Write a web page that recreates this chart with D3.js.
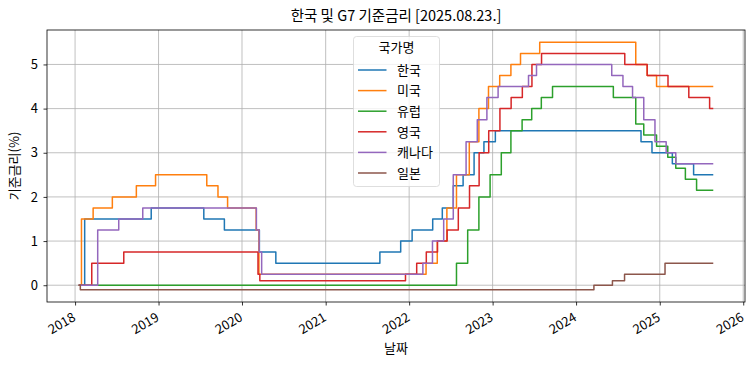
<!DOCTYPE html>
<html><head><meta charset="utf-8">
<script src="https://cdn.jsdelivr.net/npm/d3@7"></script>
<style>
html,body{margin:0;padding:0;background:#fff;}
text{font-family:"Noto Sans CJK KR","Noto Sans",sans-serif;}
</style></head>
<body><svg id="c" width="754" height="365"></svg>
<script>
const title = "한국 및 G7 기준금리 [2025.08.23.]";
const xLabel = "날짜";
const yLabel = "기준금리(%)";
const legendTitle = "국가명";
const countries = ["한국","미국","유럽","영국","캐나다","일본"];
const colors = ["#1f77b4","#ff7f0e","#2ca02c","#d62728","#9467bd","#8c564b"];
const yTicks = [0,1,2,3,4,5];
const xTickYears = [2018,2019,2020,2021,2022,2023,2024,2025,2026];

const korea = [["2018-01-17",0],["2018-02-12",1.5],["2018-11-30",1.75],["2019-07-18",1.5],["2019-10-16",1.25],["2020-03-17",0.75],["2020-05-28",0.5],["2021-08-26",0.75],["2021-11-25",1.0],["2022-01-14",1.25],["2022-04-14",1.5],["2022-05-26",1.75],["2022-07-13",2.25],["2022-08-25",2.5],["2022-10-12",3.0],["2022-11-24",3.25],["2023-01-13",3.5],["2024-10-11",3.25],["2024-11-28",3.0],["2025-02-25",2.75],["2025-05-29",2.5],["2025-08-23",2.5]];
const usa = [["2018-01-17",0],["2018-01-29",1.5],["2018-03-21",1.75],["2018-06-13",2.0],["2018-09-26",2.25],["2018-12-19",2.5],["2019-07-31",2.25],["2019-09-18",2.0],["2019-10-30",1.75],["2020-03-03",1.25],["2020-03-15",0.25],["2022-03-16",0.5],["2022-05-04",1.0],["2022-06-15",1.75],["2022-07-27",2.5],["2022-09-21",3.25],["2022-11-02",4.0],["2022-12-14",4.5],["2023-02-01",4.75],["2023-03-22",5.0],["2023-05-03",5.25],["2023-07-26",5.5],["2024-09-18",5.0],["2024-11-07",4.75],["2024-12-18",4.5],["2025-08-23",4.5]];
const europe = [["2018-01-17",0],["2022-07-27",0.5],["2022-09-14",1.25],["2022-11-02",2.0],["2022-12-21",2.5],["2023-02-08",3.0],["2023-03-22",3.5],["2023-05-10",3.75],["2023-06-21",4.0],["2023-08-02",4.25],["2023-09-20",4.5],["2024-06-12",4.25],["2024-09-18",3.65],["2024-10-23",3.4],["2024-12-18",3.15],["2025-02-05",2.9],["2025-03-12",2.65],["2025-04-23",2.4],["2025-06-11",2.15],["2025-08-23",2.15]];
const uk = [["2018-01-17",0],["2018-03-15",0.5],["2018-08-02",0.75],["2020-03-11",0.25],["2020-03-19",0.1],["2021-12-16",0.25],["2022-02-03",0.5],["2022-03-17",0.75],["2022-05-05",1.0],["2022-06-16",1.25],["2022-08-04",1.75],["2022-09-22",2.25],["2022-11-03",3.0],["2022-12-15",3.5],["2023-02-02",4.0],["2023-03-23",4.25],["2023-05-11",4.5],["2023-06-22",5.0],["2023-08-03",5.25],["2024-08-01",5.0],["2024-11-07",4.75],["2025-02-06",4.5],["2025-05-08",4.25],["2025-08-07",4.0],["2025-08-23",4.0]];
const canada = [["2018-01-17",0],["2018-04-10",1.25],["2018-07-11",1.5],["2018-10-24",1.75],["2020-03-04",1.25],["2020-03-16",0.75],["2020-03-27",0.25],["2022-03-02",0.5],["2022-04-13",1.0],["2022-06-01",1.5],["2022-07-13",2.5],["2022-09-07",3.25],["2022-10-26",3.75],["2022-12-07",4.25],["2023-01-25",4.5],["2023-06-07",4.75],["2023-07-12",5.0],["2024-06-05",4.75],["2024-07-24",4.5],["2024-09-04",4.25],["2024-10-23",3.75],["2024-12-11",3.25],["2025-01-29",3.0],["2025-03-12",2.75],["2025-08-23",2.75]];
const japan = [["2018-01-17",0],["2018-01-24",-0.1],["2024-03-19",0.0],["2024-06-08",0.1],["2024-07-31",0.25],["2025-01-24",0.5],["2025-08-23",0.5]];

const seriesData = [korea, usa, europe, uk, canada, japan];

const parse = d3.utcParse("%Y-%m-%d");
const series = seriesData.map((arr,i)=>({name:countries[i], color:colors[i], pts:arr.map(d=>({date:parse(d[0]), v:d[1]}))}));

const svg = d3.select("#c");
const m = {l:47, r:745, t:30, b:302};

const allDates = series.flatMap(s=>s.pts.map(p=>+p.date));
const allVals = series.flatMap(s=>s.pts.map(p=>p.v));
const dmin = d3.min(allDates), dmax = d3.max(allDates);
const dpad = (dmax-dmin)*0.05;
const vmin = d3.min(allVals), vmax = d3.max(allVals);
const vpad = (vmax-vmin)*0.05;

const x = d3.scaleUtc().domain([new Date(dmin-dpad), new Date(dmax+dpad)]).range([m.l, m.r]);
const y = d3.scaleLinear().domain([vmin-vpad, vmax+vpad]).range([m.b, m.t]);

const xTicks = xTickYears.map(yr=>new Date(Date.UTC(yr,0,1)));

// grid
const g = svg.append("g");
g.selectAll(".gx").data(xTicks).join("line")
  .attr("x1",d=>x(d)).attr("x2",d=>x(d)).attr("y1",m.t).attr("y2",m.b)
  .attr("stroke","#b0b0b0").attr("stroke-width",0.8);
g.selectAll(".gy").data(yTicks).join("line")
  .attr("x1",m.l).attr("x2",m.r).attr("y1",d=>y(d)).attr("y2",d=>y(d))
  .attr("stroke","#b0b0b0").attr("stroke-width",0.8);

// lines
svg.append("clipPath").attr("id","clp").append("rect")
  .attr("x",m.l).attr("y",m.t).attr("width",m.r-m.l).attr("height",m.b-m.t);
const line = d3.line().x(p=>x(p.date)).y(p=>y(p.v)).curve(d3.curveStepAfter);
svg.append("g").attr("clip-path","url(#clp)").selectAll("path").data(series).join("path")
  .attr("d",s=>line(s.pts)).attr("fill","none").attr("stroke",s=>s.color)
  .attr("stroke-width",1.5).attr("stroke-linejoin","round");

// axes
const xAxis = svg.append("g").attr("transform",`translate(0,${m.b})`)
  .call(d3.axisBottom(x).tickValues(xTicks).tickFormat(d3.utcFormat("%Y")).tickSizeOuter(0).tickSize(3.5));
xAxis.select(".domain").remove();
xAxis.selectAll("line").attr("stroke","#000").attr("stroke-width",0.8);
xAxis.selectAll("text").attr("font-size",13).attr("fill","#000")
  .attr("text-anchor","end").attr("dy",null).attr("y",0)
  .attr("transform","translate(1,18) rotate(-30)");

const yAxis = svg.append("g").attr("transform",`translate(${m.l},0)`)
  .call(d3.axisLeft(y).tickValues(yTicks).tickFormat(d3.format("d")).tickSizeOuter(0).tickSize(3.5));
yAxis.select(".domain").remove();
yAxis.selectAll("line").attr("stroke","#000").attr("stroke-width",0.8);
yAxis.selectAll("text").attr("font-size",13).attr("fill","#000").attr("x",-9);

// spines
svg.append("rect").attr("x",m.l).attr("y",m.t).attr("width",m.r-m.l).attr("height",m.b-m.t)
  .attr("fill","none").attr("stroke","#000").attr("stroke-width",0.8);

// title and labels
svg.append("text").attr("x",(m.l+m.r)/2).attr("y",21).attr("text-anchor","middle")
  .attr("font-size",14.5).text(title);
svg.append("text").attr("x",(m.l+m.r)/2).attr("y",353).attr("text-anchor","middle")
  .attr("font-size",13).text(xLabel);
svg.append("text").attr("transform",`translate(19,${(m.t+m.b)/2}) rotate(-90)`).attr("text-anchor","middle")
  .attr("font-size",13).text(yLabel);

// legend
const lg = svg.append("g");
lg.append("rect").attr("x",353.5).attr("y",36.5).attr("width",86).attr("height",150).attr("rx",3)
  .attr("fill","#fff").attr("fill-opacity",0.8).attr("stroke","#d6d6d6").attr("stroke-width",0.8);
lg.append("text").attr("x",396.5).attr("y",52).attr("text-anchor","middle").attr("font-size",13).text(legendTitle);
const items = lg.selectAll(".it").data(series).join("g")
  .attr("transform",(d,i)=>`translate(0,${70+i*20.6})`);
items.append("line").attr("x1",358).attr("x2",386.5).attr("y1",0).attr("y2",0)
  .attr("stroke",d=>d.color).attr("stroke-width",1.5);
items.append("text").attr("x",397).attr("y",4.8).attr("font-size",13).text(d=>d.name);
</script></body></html>
